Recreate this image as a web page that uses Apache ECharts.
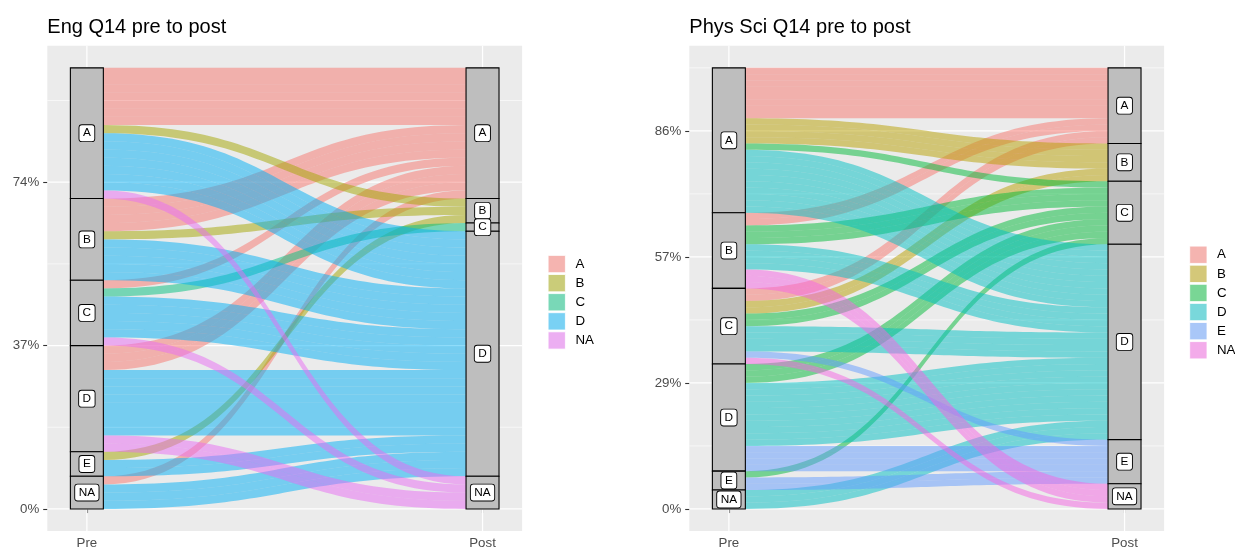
<!DOCTYPE html>
<html><head><meta charset="utf-8">
<script src="https://cdn.jsdelivr.net/npm/echarts@6/dist/echarts.min.js"></script>
<style>html,body{margin:0;padding:0;background:#fff}#c{width:1235px;height:550px}</style>
</head><body><div id="c"></div>
<script>
const FONT = "'Liberation Sans', Arial, Helvetica, sans-serif";

// ---------- Panel 1 : Eng ----------
const engTitle = 'Eng Q14 pre to post';
const engPreLevels = ['A','B','C','D','E','NA'];
const engPostLevels = ['A','B','C','D','NA'];
const engFrom = ['A','A','A','A','B','B','B','C','C','C','C','D','D','D','E','E','NA','NA'];
const engTo   = ['A','B','D','NA','A','B','D','A','C','D','NA','A','D','NA','B','D','A','D'];
const engN    = [7,1,7,1,4,1,5,1,1,5,1,3,8,2,1,2,1,3];
const engColors = ['#F8766D','#A3A500','#00BF7D','#00B0F6','#E76BF3'];
const engKeyColors = ['#F5B4B0','#CACC79','#79D8B7','#79D1F4','#ECAEF2'];
const engTicks = [0,20,40];
const engTickLabels = ['0%','37%','74%'];

// ---------- Panel 2 : Phys Sci ----------
const physTitle = 'Phys Sci Q14 pre to post';
const physPreLevels = ['A','B','C','D','E','NA'];
const physPostLevels = ['A','B','C','D','E','NA'];
const physFrom = ['A','A','A','A','B','B','B','B','C','C','C','C','C','C','D','D','D','E','E','NA'];
const physTo   = ['A','B','C','D','A','C','D','NA','A','B','C','D','E','NA','C','D','E','C','E','D'];
const physN    = [8,4,1,10,2,3,4,3,2,2,2,4,1,1,3,10,4,1,2,3];
const physColors = ['#F8766D','#B79F00','#00BA38','#00BFC4','#619CFF','#F564E3'];
const physKeyColors = ['#F5B4B0','#D4C879','#79D695','#79D8DB','#A9C7F8','#F3ABEA'];
const physTicks = [0,20,40,60];
const physTickLabels = ['0%','29%','57%','86%'];

const axisNames = ['Pre','Post'];
const axisPos = [1,2];

const W = 1/12;   // stratum width (axis units)
const K = 0.5;    // curve control fraction

function sum(a){return a.reduce((s,v)=>s+v,0);}

function layout(preLv, postLv, from, to, n) {
  const total = sum(n);
  const idx = n.map((_, i) => i);
  const preStrata = [], postStrata = [];
  let top = total;
  preLv.forEach(l => { const c = sum(n.filter((_, i) => from[i] === l)); if (c > 0) preStrata.push({axis:1, level:l, top, n:c}); top -= c; });
  top = total;
  postLv.forEach(l => { const c = sum(n.filter((_, i) => to[i] === l)); if (c > 0) postStrata.push({axis:2, level:l, top, n:c}); top -= c; });
  const preTop = [], postTop = [];
  const pi = l => preLv.indexOf(l), qi = l => postLv.indexOf(l);
  const preOrder = idx.slice().sort((a,b) => (pi(from[a])-pi(from[b])) || (qi(to[a])-qi(to[b])));
  let y = total; preOrder.forEach(i => { preTop[i] = y; y -= n[i]; });
  const postOrder = idx.slice().sort((a,b) => (qi(to[a])-qi(to[b])) || (pi(from[a])-pi(from[b])));
  y = total; postOrder.forEach(i => { postTop[i] = y; y -= n[i]; });
  return {total, strata: preStrata.concat(postStrata), preTop, postTop};
}

function bez(p, q, steps) {
  const pts = [];
  const c1x = p[0] + K*(q[0]-p[0]), c2x = q[0] - K*(q[0]-p[0]);
  for (let s = 0; s <= steps; s++) {
    const t = s/steps, m = 1-t;
    const x = m*m*m*p[0] + 3*m*m*t*c1x + 3*m*t*t*c2x + t*t*t*q[0];
    const y = m*m*m*p[1] + 3*m*m*t*p[1] + 3*m*t*t*q[1] + t*t*t*q[1];
    pts.push([x,y]);
  }
  return pts;
}

const panels = [
  {title: engTitle, preLv: engPreLevels, postLv: engPostLevels, from: engFrom, to: engTo, n: engN,
   colors: engColors, keyColors: engKeyColors, ticks: engTicks, tickLabels: engTickLabels,
   grid: {left: 47.3, top: 45.8, width: 474.8, height: 485.8}, legend: {left: 547.7, top: 255}},
  {title: physTitle, preLv: physPreLevels, postLv: physPostLevels, from: physFrom, to: physTo, n: physN,
   colors: physColors, keyColors: physKeyColors, ticks: physTicks, tickLabels: physTickLabels,
   grid: {left: 689.3, top: 45.8, width: 474.8, height: 485.8}, legend: {left: 1189.3, top: 245.7}}
];

const option = {animation:false, backgroundColor:'#fff', title:[], grid:[], xAxis:[], yAxis:[], legend:[], series:[]};

panels.forEach((cfg, p) => {
  const L = layout(cfg.preLv, cfg.postLv, cfg.from, cfg.to, cfg.n);
  const yMin = -0.05*L.total, yMax = 1.05*L.total;
  const xMin = 0.9, xMax = 2.1;
  option.title.push({text: cfg.title, left: cfg.grid.left, top: 17.5, padding: 0,
    textStyle: {fontFamily: FONT, fontSize: 20, fontWeight: 'normal', color: '#000'}});
  option.grid.push(Object.assign({show: true, backgroundColor: '#EBEBEB', borderWidth: 0, containLabel: false}, cfg.grid));
  option.xAxis.push({gridIndex: p, type: 'value', min: xMin, max: xMax,
    axisLine: {show: false}, splitLine: {show: false},
    axisTick: {show: true, customValues: axisPos, length: 4.1, lineStyle: {color: '#333333', width: 1.1}},
    axisLabel: {show: true, customValues: axisPos, margin: 6, color: '#4D4D4D', fontSize: 13.3, fontFamily: FONT,
      formatter: v => axisNames[axisPos.indexOf(Math.round(v))] || ''}});
  option.yAxis.push({gridIndex: p, type: 'value', min: yMin, max: yMax,
    axisLine: {show: false}, splitLine: {show: false},
    axisTick: {show: true, customValues: cfg.ticks, length: 4.1, lineStyle: {color: '#333333', width: 1.1}},
    axisLabel: {show: true, customValues: cfg.ticks, margin: 8, color: '#4D4D4D', fontSize: 13.3, fontFamily: FONT,
      formatter: v => cfg.tickLabels[cfg.ticks.indexOf(Math.round(v))] || ''}});

  // grid lines
  const step = cfg.ticks[1] - cfg.ticks[0];
  const gridData = [];
  cfg.ticks.forEach(t => gridData.push([0, t]));
  for (let t = cfg.ticks[0] - step/2; t <= yMax; t += step) if (t >= yMin) gridData.push([1, t]);
  axisPos.forEach(x => gridData.push([2, x]));
  option.series.push({type: 'custom', xAxisIndex: p, yAxisIndex: p, z: 1, silent: true, data: gridData,
    renderItem: (params, api) => {
      const kind = api.value(0), v = api.value(1);
      let a, b;
      if (kind < 2) { a = api.coord([xMin, v]); b = api.coord([xMax, v]); }
      else { a = api.coord([v, yMin]); b = api.coord([v, yMax]); }
      return {type: 'line', shape: {x1: a[0], y1: a[1], x2: b[0], y2: b[1]},
        style: {stroke: '#FFFFFF', lineWidth: kind === 1 ? 0.6 : 1.25}};
    }});

  // flows, one series per post level
  cfg.postLv.forEach((lv, k) => {
    const items = cfg.n.map((_, i) => i).filter(i => cfg.to[i] === lv).map(i => [i, 0]);
    option.series.push({type: 'custom', name: lv, xAxisIndex: p, yAxisIndex: p, z: 2, silent: true,
      itemStyle: {color: cfg.colors[k]}, data: items,
      renderItem: (params, api) => {
        const i = api.value(0);
        const xa = 1 + W/2, xb = 2 - W/2;
        const children = [];
        for (let u = 0; u < cfg.n[i]; u++) {
          const a0 = api.coord([xa, L.preTop[i]-u]), a1 = api.coord([xa, L.preTop[i]-u-1]);
          const b0 = api.coord([xb, L.postTop[i]-u]), b1 = api.coord([xb, L.postTop[i]-u-1]);
          const pts = bez(a0, b0, 48).concat(bez(b1, a1, 48));
          children.push({type: 'polygon', shape: {points: pts}, style: {fill: cfg.colors[k], opacity: 0.5}});
        }
        return {type: 'group', children};
      }});
  });

  // strata rectangles
  const strataData = L.strata.map((s, j) => [s.axis, s.top, s.n, j]);
  option.series.push({type: 'custom', xAxisIndex: p, yAxisIndex: p, z: 3, silent: true, data: strataData,
    renderItem: (params, api) => {
      const ax = api.value(0), top = api.value(1), cnt = api.value(2);
      const a = api.coord([ax - W/2, top]), b = api.coord([ax + W/2, top - cnt]);
      return {type: 'rect', shape: {x: a[0], y: a[1], width: b[0]-a[0], height: b[1]-a[1]},
        style: {fill: '#BEBEBE', stroke: '#000', lineWidth: 1.1}};
    }});
  // strata labels
  option.series.push({type: 'custom', xAxisIndex: p, yAxisIndex: p, z: 4, silent: true, data: strataData,
    renderItem: (params, api) => {
      const ax = api.value(0), top = api.value(1), cnt = api.value(2), j = api.value(3);
      const c = api.coord([ax, top - cnt/2]);
      return {type: 'text', x: c[0], y: c[1],
        style: {text: L.strata[j].level, fontSize: 11.8, fontFamily: FONT, fill: '#000',
          align: 'center', verticalAlign: 'middle', textAlign: 'center', textVerticalAlign: 'middle',
          lineHeight: 12, backgroundColor: '#fff', borderColor: '#000', borderWidth: 0.9, borderRadius: 2.5,
          padding: [2, 3.5, 2, 3.5]}};
    }});

  option.legend.push({orient: 'vertical', left: cfg.legend.left, top: cfg.legend.top, padding: 0,
    itemWidth: 17.3, itemHeight: 17.3, itemGap: 1, icon: 'rect', selectedMode: false,
    textStyle: {fontFamily: FONT, fontSize: 13.3, color: '#000', padding: [0, 0, 0, 5]},
    data: cfg.postLv.map((lv, k) => ({name: lv, icon: 'rect',
      itemStyle: {color: cfg.keyColors[k], borderColor: '#FFFFFF', borderWidth: 0.8, opacity: 1}}))});
});

const chart = echarts.init(document.getElementById('c'), null, {renderer: 'canvas'});
chart.setOption(option);
</script>
</body></html>
